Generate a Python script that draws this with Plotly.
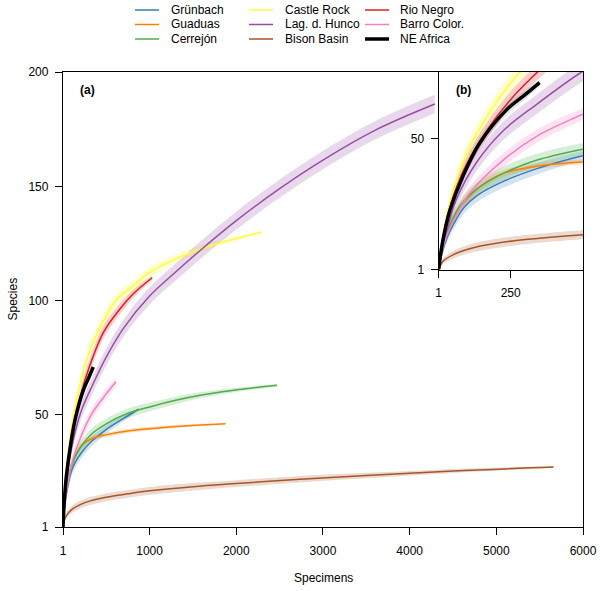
import plotly.graph_objects as go

# === Rarefaction curves, values ===
# each curve: n = specimens, s = expected species, ci = half-width of the band
gruenbach_n = [1, 10, 30, 50, 87, 131, 224, 341, 495, 700, 875]
gruenbach_s = [1, 6, 13, 17.5, 24, 28.5, 34, 38.8, 43.5, 48.5, 52.5]
gruenbach_ci = [0, 1, 1.7, 2, 2.3, 2.4, 2.4, 2.2, 1.8, 1.2, 0.5]

guaduas_n = [1, 10, 30, 50, 87, 143, 224, 341, 495, 750, 1000, 1400, 1875]
guaduas_s = [1, 7, 15, 20, 26, 32, 37, 39.7, 41.3, 43, 44, 45.2, 46.2]
guaduas_ci = [0, 1, 1.6, 1.8, 1.8, 1.6, 1.3, 1.1, 1, 0.9, 0.8, 0.6, 0.3]

cerrejon_n = [1, 10, 30, 73, 131, 224, 341, 495, 736, 1000, 1313, 1600, 1930, 2470]
cerrejon_s = [1, 7, 15, 24.6, 31, 37, 42, 46, 50.5, 53.5, 56.5, 58.7, 60.6, 63]
cerrejon_ci = [0, 1, 1.8, 2.3, 2.5, 2.5, 2.4, 2.3, 2.1, 1.9, 1.6, 1.3, 1, 0.5]

castle_n = [1, 10, 25, 50, 100, 184, 274, 351, 620, 800, 1005, 1545, 2295]
castle_s = [1, 9.5, 19, 30, 45, 61, 74, 82, 100.5, 106, 112.5, 122, 130]
castle_ci = [0, 1.3, 2.2, 2.8, 3.2, 3.5, 3.5, 3.4, 3, 2.7, 2.4, 1.6, 0.5]

hunco_n = [1, 10, 30, 61, 131, 224, 341, 495, 700, 1000, 1300, 1600, 2000, 2500, 3000, 3600, 4290]
hunco_s = [1, 7, 16, 27, 41, 53, 63, 75, 88, 102, 112.5, 122.5, 135, 149, 161.5, 174.5, 186]
hunco_ci = [0, 1, 2, 2.6, 3.2, 3.5, 3.6, 3.7, 3.7, 3.7, 3.7, 3.8, 3.9, 4, 4, 4, 4]

bison_n = [1, 15, 50, 108, 200, 300, 500, 750, 1000, 1500, 2000, 2735, 3500, 4500, 5660]
bison_s = [1, 4, 6.5, 8.8, 10.8, 12.2, 14, 15.5, 16.8, 18.6, 20, 21.9, 23.5, 25.5, 27.2]
bison_ci = [0, 1, 1.4, 1.6, 1.7, 1.7, 1.7, 1.7, 1.7, 1.6, 1.5, 1.4, 1.2, 0.9, 0.4]

rio_n = [1, 10, 25, 50, 100, 200, 300, 466, 650, 812, 1030]
rio_s = [1, 9, 18, 28, 41, 58, 70.5, 86, 96, 103, 110]
rio_ci = [0, 1.2, 2, 2.5, 2.8, 3, 3, 2.8, 2.4, 1.8, 1]

barro_n = [1, 10, 30, 60, 108, 224, 341, 495, 612]
barro_s = [1, 6.5, 14, 21, 29.6, 42, 51, 59, 64.5]
barro_ci = [0, 1, 1.8, 2.2, 2.5, 2.6, 2.5, 2.2, 1.8]

africa_n = [1, 10, 25, 40, 85, 143, 236, 300, 350]
africa_s = [1, 8.5, 17, 23.3, 36, 48.4, 60.9, 66.5, 71]
africa_ci = [0, 1.2, 1.8, 2, 2.2, 2.2, 2, 1.6, 1.2]

# name, n, s, ci, line colour, band rgb, line width, legend column, legend row
curves = [
    ("Grünbach", gruenbach_n, gruenbach_s, gruenbach_ci, "#377EB8", "55,126,184", 1.5, 0, 0),
    ("Guaduas", guaduas_n, guaduas_s, guaduas_ci, "#FF7F00", "255,127,0", 1.5, 0, 1),
    ("Cerrejón", cerrejon_n, cerrejon_s, cerrejon_ci, "#4DAF4A", "77,175,74", 1.5, 0, 2),
    ("Castle Rock", castle_n, castle_s, castle_ci, "#FFFF33", "255,255,51", 1.5, 1, 0),
    ("Lag. d. Hunco", hunco_n, hunco_s, hunco_ci, "#984EA3", "152,78,163", 1.5, 1, 1),
    ("Bison Basin", bison_n, bison_s, bison_ci, "#A65628", "166,86,40", 1.5, 1, 2),
    ("Rio Negro", rio_n, rio_s, rio_ci, "#E41A1C", "228,26,28", 1.5, 2, 0),
    ("Barro Color.", barro_n, barro_s, barro_ci, "#F781BF", "247,129,191", 1.5, 2, 1),
    ("NE Africa", africa_n, africa_s, africa_ci, "#000000", "120,120,120", 3.5, 2, 2),
]

# page geometry (px) of the main panel, used to place legend / labels
W, H = 600, 591
L, R, T, B = 63, 583, 72, 527


def px_x(v):
    return (v - L) / (R - L)


def px_y(v):
    return (B - v) / (B - T)


fig = go.Figure()

# confidence bands first (lower edge, then upper edge filled to it),
# in both the main panel and the inset
for xa, ya in [("x", "y"), ("x2", "y2")]:
    for name, n, s, ci, col, rgb, lw, c, r in curves:
        upper = [a + b for a, b in zip(s, ci)]
        lower = [a - b for a, b in zip(s, ci)]
        fig.add_trace(go.Scatter(
            x=n, y=lower, mode="lines", line=dict(width=0, shape="spline"),
            hoverinfo="skip", showlegend=False, xaxis=xa, yaxis=ya
        ))
        fig.add_trace(go.Scatter(
            x=n, y=upper, mode="lines", line=dict(width=0, shape="spline"),
            fill="tonexty", fillcolor=f"rgba({rgb},0.22)",
            hoverinfo="skip", showlegend=False, xaxis=xa, yaxis=ya
        ))

# curves on top
for xa, ya in [("x", "y"), ("x2", "y2")]:
    for name, n, s, ci, col, rgb, lw, c, r in curves:
        fig.add_trace(go.Scatter(
            x=n, y=s, mode="lines", name=name,
            line=dict(color=col, width=lw, shape="spline"),
            showlegend=False, xaxis=xa, yaxis=ya
        ))

# legend drawn by hand: 3 columns x 3 rows above the plot
leg_line_x = [(135, 159), (249, 273), (365, 389)]
leg_text_x = [169, 283, 398]
leg_row_y = [10, 24.5, 39]
shapes = []
annotations = []
for name, n, s, ci, col, rgb, lw, c, r in curves:
    shapes.append(dict(type="line", xref="paper", yref="paper",
                       x0=px_x(leg_line_x[c][0]), x1=px_x(leg_line_x[c][1]),
                       y0=px_y(leg_row_y[r]), y1=px_y(leg_row_y[r]),
                       line=dict(color=col, width=lw)))
    annotations.append(dict(text=name, xref="paper", yref="paper",
                            x=px_x(leg_text_x[c]), y=px_y(leg_row_y[r]),
                            xanchor="left", yanchor="middle", showarrow=False,
                            font=dict(size=12)))

annotations += [
    dict(text="<b>(a)</b>", xref="paper", yref="paper", x=px_x(87.5), y=px_y(90),
         xanchor="center", yanchor="middle", showarrow=False, font=dict(size=12)),
    dict(text="<b>(b)</b>", xref="paper", yref="paper", x=px_x(463.5), y=px_y(90.5),
         xanchor="center", yanchor="middle", showarrow=False, font=dict(size=12)),
    dict(text="Specimens", xref="paper", yref="paper", x=0.5, y=px_y(578),
         xanchor="center", yanchor="middle", showarrow=False, font=dict(size=12)),
    dict(text="Species", xref="paper", yref="paper", x=px_x(12), y=0.5,
         xanchor="center", yanchor="middle", textangle=-90, showarrow=False,
         font=dict(size=12)),
]

tick_font = dict(family="Liberation Sans, Arial", size=12, color="black")
axis_common = dict(showline=True, linecolor="black", linewidth=1.3, mirror=True,
                   ticks="outside", ticklen=7, tickcolor="black", tickwidth=1,
                   showgrid=False, zeroline=False, tickfont=tick_font)

fig.update_layout(
    width=W, height=H,
    margin=dict(l=L, r=W - R, t=T, b=H - B, autoexpand=False),
    plot_bgcolor="white", paper_bgcolor="white",
    showlegend=False,
    font=dict(family="Liberation Sans, Arial", size=12, color="black"),
    xaxis=dict(domain=[0, 1], range=[1, 6000], ticklabelstandoff=5,
               tickvals=[1, 1000, 2000, 3000, 4000, 5000, 6000], **axis_common),
    yaxis=dict(domain=[0, 1], range=[1, 200], ticklabelstandoff=4,
               tickvals=[1, 50, 100, 150, 200], **axis_common),
    xaxis2=dict(domain=[px_x(438.7), 1], range=[1, 500], anchor="y2",
                ticklabelstandoff=5, tickvals=[1, 250], **axis_common),
    yaxis2=dict(domain=[px_y(269.5), 1], range=[1, 75], anchor="x2",
                ticklabelstandoff=4, tickvals=[1, 50], **axis_common),
    shapes=shapes,
    annotations=annotations,
)

fig.write_html("out.html", config={"displayModeBar": False},
               post_script="document.body.style.margin='0px';")
